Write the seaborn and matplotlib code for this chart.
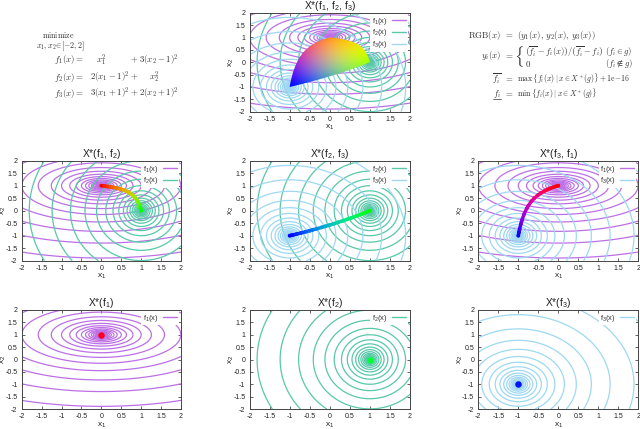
import numpy as np
import matplotlib
matplotlib.use("Agg")
import matplotlib.pyplot as plt
import seaborn as sns
from matplotlib.collections import LineCollection
from matplotlib.lines import Line2D
from matplotlib.patches import PathPatch
from matplotlib.path import Path

# ---- data ----
TICKS = [-2, -1.5, -1, -0.5, 0, 0.5, 1, 1.5, 2]
TICK_LABELS = ['-2', '-1.5', '-1', '-0.5', '0', '0.5', '1', '1.5', '2']
LEVELS = [0.0004, 0.00063, 0.001, 0.00158, 0.00251, 0.00398, 0.00631, 0.01, 0.0158, 0.0251,
          0.0398, 0.0631, 0.1, 0.158, 0.251, 0.398, 0.631, 1.0, 1.58, 2.51, 3.98, 6.31,
          10.0, 15.8, 25.1, 39.8, 63.1]
# objective coefficients as printed in the figure: (a, ca, b, cb) -> a(x1-ca)^2 + b(x2-cb)^2
F1 = (1, 0, 3, 1)
F2 = (2, 1, 1, 0)
F3 = (3, -1, 2, -1)
# Pareto curves
P12_X = [0, .091, .167, .231, .286, .375, .444, .5, .565, .615, .667, .722, .762, .8, .833, .857, .889, .909, .933, .952, .968, .98, .99, 1]
P12_Y = [1, .984, .968, .952, .938, .909, .882, .857, .822, .789, .75, .698, .652, .6, .545, .5, .429, .375, .3, .231, .167, .107, .057, 0]
P23_X = [1, .818, .667, .538, .429, .333, .212, .111, 0, -.111, -.2, -.333, -.429, -.5, -.6, -.714, -.818, -.905, -.961, -1]
P23_Y = [0, -.118, -.21, -.286, -.348, -.4, -.464, -.516, -.571, -.625, -.667, -.727, -.769, -.8, -.842, -.889, -.93, -.964, -.985, -1]
P31_X = [-1, -.984, -.968, -.9375, -.909, -.857, -.789, -.75, -.667, -.6, -.5, -.429, -.333, -.273, -.2, -.13, -.057, 0]
P31_Y = [-1, -.86, -.739, -.538, -.379, -.143, .091, .2, .385, .5, .636, .714, .8, .846, .895, .935, .974, 1]
OPT_X = [0, 1, -1]
OPT_Y = [1, 0, -1]

COL = {1: '#bd70e6', 2: '#58c8a8', 3: '#9ed8f2'}
FS = {1: F1, 2: F2, 3: F3}
W, H = 640, 429
DIGITS = {1: '1', 2: '2', 3: '3'}
FILL_GAMMA = 1.3

sns.set_theme(style='white')
plt.rcParams['font.family'] = ['Liberation Sans', 'DejaVu Sans']
plt.rcParams['mathtext.fontset'] = 'custom'
plt.rcParams['mathtext.rm'] = 'Liberation Sans'
plt.rcParams['mathtext.it'] = 'Liberation Sans'
plt.rcParams['mathtext.default'] = 'it'


def f(c, x, y):
    return c[0] * (x - c[1]) ** 2 + c[2] * (y - c[3]) ** 2


def rgb(x, y, which, hi, lo):
    out = []
    for i in (1, 2, 3):
        if i in which:
            out.append((hi[i] - f(FS[i], x, y)) / (hi[i] - lo[i]))
        else:
            out.append(np.zeros_like(x))
    return np.clip(np.stack(out, axis=-1), 0, 1)


fig = plt.figure(figsize=(W / 100, H / 100), dpi=100)
gx = np.linspace(-2, 2, 700)
GX, GY = np.meshgrid(gx, gx)


def panel(l, t, r, b, which, title):
    ax = fig.add_axes([l / W, 1 - b / H, (r - l) / W, (b - t) / H])
    for i in which:
        ax.contour(GX, GY, f(FS[i], GX, GY), levels=LEVELS, colors=COL[i], linewidths=0.9,
                   linestyles='solid', zorder=1)
    ax.set_xlim(-2, 2)
    ax.set_ylim(-2, 2)
    ax.set_xticks(TICKS, TICK_LABELS)
    ax.set_yticks(TICKS, TICK_LABELS)
    ax.tick_params(direction='in', length=2, width=0.5, labelsize=5, pad=3, colors='#222222',
                   bottom=True, left=True, top=True, right=True)
    ax.set_xlabel('x$_1$', fontsize=6, color='#222222')
    ax.set_ylabel('x$_2$', fontsize=6, color='#222222')
    ax.xaxis.set_label_coords(0.5, -11.5 / (b - t), transform=ax.transAxes)
    ax.yaxis.set_label_coords(-13.5 / (r - l), 0.5, transform=ax.transAxes)
    ax.set_title(title, fontsize=7.4, pad=3, color='#222222')
    for s in ax.spines.values():
        s.set_visible(True)
        s.set_color('#444444')
        s.set_linewidth(0.7)
    hs = [Line2D([], [], color=COL[i], lw=1.0, label=f'f$_{DIGITS[i]}$(x)') for i in which]
    leg = ax.legend(handles=hs, loc='upper right', fontsize=5.4, frameon=True, framealpha=1,
                    facecolor='white', edgecolor='none', fancybox=False, borderpad=0.2,
                    labelspacing=0.1, handlelength=1.9, handletextpad=0.6, markerfirst=False,
                    bbox_to_anchor=(0.985, 0.985), borderaxespad=0, labelcolor='#333333')
    leg.set_zorder(3)
    return ax


def pareto(ax, xs, ys, which):
    xs, ys = np.array(xs, float), np.array(ys, float)
    hi = {i: f(FS[i], xs, ys).max() for i in which}
    lo = {i: f(FS[i], xs, ys).min() for i in which}
    cols = rgb(xs, ys, which, hi, lo)
    pts = np.column_stack([xs, ys])
    segs = np.stack([pts[:-1], pts[1:]], axis=1)
    mids = (cols[:-1] + cols[1:]) / 2
    ax.add_collection(LineCollection(segs, colors=mids, linewidths=2.5, capstyle='round', zorder=4))
    sns.scatterplot(x=xs, y=ys, c=cols, s=7, linewidth=0, ax=ax, zorder=5, legend=False)


# top panel with the filled three-objective set
ax0 = panel(249.5, 12.7, 410, 111.7, [1, 2, 3], 'X*(f$_1$, f$_2$, f$_3$)')
bx = P12_X + P23_X[1:] + P31_X[1:]
by = P12_Y + P23_Y[1:] + P31_Y[1:]
bxa, bya = np.array(bx, float), np.array(by, float)
hi3 = {1: 13.0, 2: 9.0, 3: 14.0}
lo3 = {1: 0.0, 2: 0.0, 3: 0.0}
fill = rgb(GX, GY, [1, 2, 3], hi3, lo3) ** FILL_GAMMA
img = ax0.imshow(fill, extent=(-2, 2, -2, 2), origin='lower', aspect='auto', interpolation='antialiased', zorder=2)
patch = PathPatch(Path(np.column_stack([bxa, bya])), transform=ax0.transData, fc='none', ec='none')
ax0.add_patch(patch)
img.set_clip_path(patch)
ax0.set_xlim(-2, 2)
ax0.set_ylim(-2, 2)

# middle row
pareto(panel(21.7, 160.7, 181, 260.7, [1, 2], 'X*(f$_1$, f$_2$)'), P12_X, P12_Y, [1, 2])
pareto(panel(249.5, 160.7, 410, 260.7, [2, 3], 'X*(f$_2$, f$_3$)'), P23_X, P23_Y, [2, 3])
pareto(panel(478.3, 160.7, 638.3, 260.7, [1, 3], 'X*(f$_3$, f$_1$)'), P31_X, P31_Y, [1, 3])

# bottom row
DOT = {1: '#ff0022', 2: '#00ff33', 3: '#0011ff'}
for k, (l, r) in enumerate([(21.7, 181), (249.5, 410), (478.3, 638.3)], start=1):
    a = panel(l, 310, r, 409, [k], f'X*(f$_{k}$)')
    sns.scatterplot(x=[OPT_X[k - 1]], y=[OPT_Y[k - 1]], color=DOT[k], s=22, linewidth=0, ax=a, zorder=5, legend=False)


# equations
def eq(x, y, s, ha='left', size=6.4):
    t = fig.text(x / W, 1 - y / H, s, ha=ha, va='center', fontsize=size, color='#333333', math_fontfamily='cm')
    return t


def rule(x0, x1, y):
    fig.add_artist(Line2D([x0 / W, x1 / W], [1 - y / H, 1 - y / H], color='#333333', lw=0.5,
                          transform=fig.transFigure))


eq(58, 35.5, r'$\mathrm{minimize}$', 'center', 5.6)
eq(60, 46, r'$x_1,x_2\!\in\![-2,2]$', 'center', 5.8)
rows = [(60, r'$f_1(x)=$', r'$x_1^2$', 96, r'$+\;3(x_2-1)^2$'),
        (77, r'$f_2(x)=$', r'$2(x_1-1)^2$', 90, r'$+\quad\;\;x_2^2$'),
        (93.7, r'$f_3(x)=$', r'$3(x_1+1)^2$', 90, r'$+\;2(x_2+1)^2$')]
for y, a, b, bx0, c in rows:
    eq(84, y, a, 'right')
    eq(bx0, y, b)
    eq(130, y, c)

eq(501, 35, r'$\mathrm{RGB}(x)$', 'right')
eq(509, 35, r'$=$', 'center')
eq(517, 35, r'$(y_1(x),\,y_2(x),\,y_3(x))$')
eq(501, 56, r'$y_i(x)$', 'right')
eq(509, 56, r'$=$', 'center')
eq(514, 57, r'$\{$', size=12)
eq(525, 51.5, r'$\left(\overline{f_i}-f_i(x)\right)/\left(\overline{f_i}-f_i\right)$', size=6.2)
eq(525, 64, r'$0$')
eq(605, 51.5, r'$(f_i\in g)$', size=6.2)
eq(605, 64, r'$(f_i\notin g)$', size=6.2)
eq(501, 79, r'$\overline{f_i}$', 'right')
eq(509, 79, r'$=$', 'center')
eq(517, 79, r'$\max\,\{f_i(x)\mid x\in X^*(g)\}+\mathrm{1e}\!-\!16$', size=5.6)
eq(501, 94, r'$f_i$', 'right')
rule(493, 501, 98.5)
eq(509, 94, r'$=$', 'center')
eq(517, 94, r'$\min\,\{f_i(x)\mid x\in X^*(g)\}$', size=5.6)

fig.savefig('out.png', dpi=100)
